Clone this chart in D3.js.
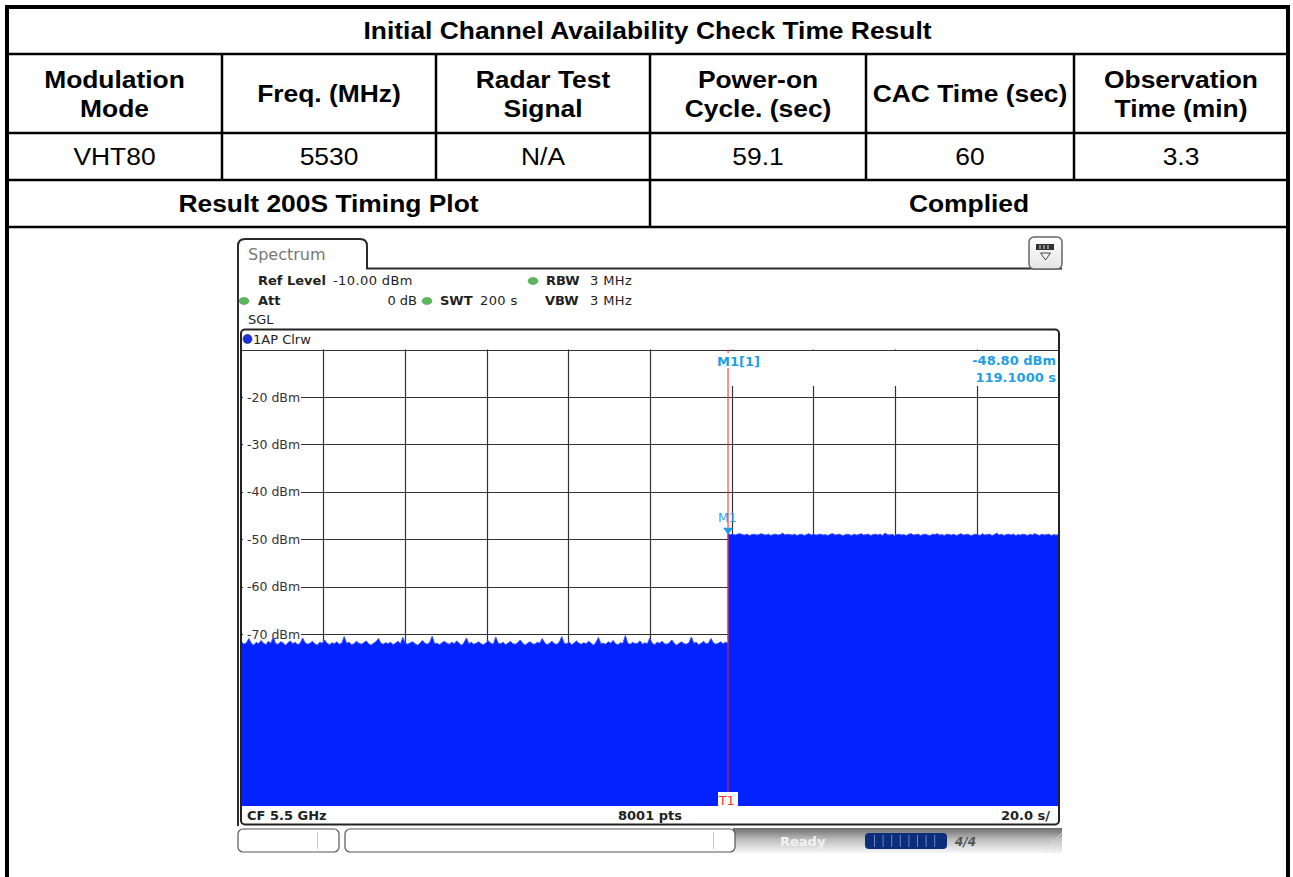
<!DOCTYPE html>
<html><head><meta charset="utf-8">
<script src="https://cdn.jsdelivr.net/npm/d3@7"></script>
<style>
html,body{margin:0;padding:0;background:#fff;}
svg{display:block;}
</style></head>
<body>
<svg id="c" width="1293" height="877"></svg>
<script>
// ---------- DATA ----------
const tableTitle = "Initial Channel Availability Check Time Result";
const headers = [["Modulation","Mode"],["Freq. (MHz)"],["Radar Test","Signal"],["Power-on","Cycle. (sec)"],["CAC Time (sec)"],["Observation","Time (min)"]];
const values = ["VHT80","5530","N/A","59.1","60","3.3"];
const resultRow = ["Result 200S Timing Plot","Complied"];

const refLevel = "-10.00 dBm", att = "0 dB", swt = "200 s", rbw = "3 MHz", vbw = "3 MHz";
const yTicks = [-20,-30,-40,-50,-60,-70,-80,-90,-100];
const xTicks = [20,40,60,80,100,120,140,160,180];
const sweepTime = 200;           // s
const markerTime = 119.1;        // s
const markerLevel = -48.80;      // dBm
const markerLabels = ["M1[1]","-48.80 dBm","119.1000 s"];
const footer = ["CF 5.5 GHz","8001 pts","20.0 s/"];

// trace level before the step (0 .. 119.1 s), dBm
const levelsBefore = [
-71.6,-72.1,-71.8,-70.9,-71.9,-72.3,-71.7,-72.0,-71.3,-71.9,-72.2,-71.5,-71.9,-70.6,-72.0,-72.1,-71.6,-71.8,-72.3,-71.8,
-71.4,-72.0,-71.7,-72.2,-71.9,-70.8,-71.8,-72.1,-71.9,-71.5,-72.0,-72.3,-71.7,-71.9,-71.2,-71.9,-72.2,-71.8,-72.0,-71.6,
-72.1,-71.9,-70.5,-71.9,-71.7,-72.2,-72.0,-71.5,-71.9,-72.1,-71.8,-71.4,-72.0,-72.3,-71.9,-71.6,-70.9,-71.9,-72.1,-71.8,
-72.0,-71.7,-72.2,-71.9,-71.5,-72.0,-70.7,-71.9,-72.1,-71.8,-71.6,-72.0,-72.3,-71.9,-71.3,-71.9,-72.1,-71.7,-70.4,-72.0,
-71.9,-72.2,-71.8,-71.5,-71.9,-72.1,-71.7,-72.0,-71.4,-71.9,-72.3,-71.8,-70.8,-72.0,-71.7,-72.1,-71.9,-71.6,-72.0,-72.2,
-71.8,-71.4,-71.9,-72.1,-70.6,-71.9,-72.0,-71.7,-72.2,-71.9,-71.5,-72.0,-72.1,-71.8,-71.2,-71.9,-72.3,-71.9,-71.6,-72.0,
-72.1,-71.7,-71.9,-70.9,-71.8,-72.2,-71.9,-71.5,-72.0,-72.1,-71.7,-70.5,-71.9,-72.0,-71.6,-72.2,-71.9,-71.4,-71.9,-72.1,
-71.8,-72.0,-71.5,-71.9,-72.3,-71.7,-70.7,-72.0,-71.9,-72.1,-71.6,-71.9,-71.3,-72.0,-72.2,-71.8,-71.9,-70.3,-71.9,-72.1,
-71.7,-72.0,-71.9,-71.4,-72.1,-71.8,-72.0,-70.8,-71.9,-72.2,-71.7,-71.9,-71.5,-72.0,-72.1,-71.8,-71.2,-71.9,-72.3,-71.9,
-71.6,-72.0,-72.1,-71.8,-70.6,-71.9,-71.7,-72.2,-71.9,-71.5,-72.0,-71.9,-70.9,-71.8,-72.1,-71.9,-71.6,-72.0,-71.7,-71.9];
// trace level after the step (119.1 .. 200 s), dBm
const levelsAfter = [
-48.8,-49.0,-48.9,-49.1,-48.9,-48.8,-49.0,-49.1,-48.9,-49.2,-49.0,-48.9,-49.1,-49.0,-48.8,-49.0,-49.1,-48.9,-49.2,-49.0,
-48.9,-49.1,-49.0,-48.7,-49.1,-48.9,-49.0,-49.1,-48.9,-49.2,-49.0,-48.9,-49.2,-49.0,-48.8,-49.1,-48.9,-49.1,-49.0,-48.9,
-49.1,-49.0,-49.2,-48.9,-48.8,-49.1,-49.0,-48.9,-49.2,-49.1,-48.9,-49.0,-49.2,-48.9,-49.1,-49.0,-48.8,-49.1,-49.0,-48.9,
-49.2,-49.0,-48.9,-49.1,-48.9,-49.2,-48.7,-49.0,-49.1,-48.9,-49.2,-49.0,-48.9,-49.1,-49.0,-49.2,-48.9,-48.8,-49.1,-49.0,
-48.9,-49.2,-49.0,-48.9,-49.1,-49.2,-48.9,-49.0,-48.8,-49.1,-49.0,-49.2,-48.9,-49.0,-49.1,-48.9,-49.2,-49.0,-48.8,-49.1,
-49.0,-48.9,-49.2,-49.1,-48.9,-49.0,-49.2,-48.8,-49.1,-49.0,-48.9,-49.2,-49.0,-48.7,-49.1,-48.9,-49.2,-49.0,-48.9,-49.1,
-48.9,-49.2,-49.0,-49.1,-48.9,-49.0,-49.2,-48.9,-49.1,-48.8,-49.0,-49.2,-48.9,-49.1,-49.0,-48.9,-49.2,-49.0,-49.1,-49.0];

// ---------- DRAW ----------
const svg = d3.select("#c");
svg.append("rect").attr("width",1293).attr("height",877).attr("fill","#fff");

// ----- table -----
const colX = [7, 222, 436, 650, 866, 1074, 1288];
const rowY = [7, 54, 133, 180, 227];
const T = svg.append("g").style("font-family","'Liberation Sans', Arial, sans-serif").style("font-size","24px").attr("fill","#000");
function cellText(txt, cx, cy, bold){
  T.append("text").attr("transform",`translate(${cx},${cy}) scale(1.1,1)`)
   .attr("text-anchor","middle").attr("dy","0.36em")
   .style("font-weight", bold ? "bold" : "normal").text(txt);
}
const L = svg.append("g").attr("stroke","#000");
[rowY[1],rowY[2],rowY[3],rowY[4]].forEach(y=>L.append("line").attr("x1",colX[0]).attr("x2",colX[6]).attr("y1",y).attr("y2",y).attr("stroke-width",2.5));
colX.slice(1,6).forEach(x=>L.append("line").attr("x1",x).attr("x2",x).attr("y1",rowY[1]).attr("y2",rowY[3]).attr("stroke-width",2.5));
L.append("line").attr("x1",colX[3]).attr("x2",colX[3]).attr("y1",rowY[3]).attr("y2",rowY[4]).attr("stroke-width",2.5);
L.append("path").attr("d",`M${colX[0]},877 V${rowY[0]} H${colX[6]} V877`).attr("fill","none").attr("stroke-width",4);

cellText(tableTitle, (colX[0]+colX[6])/2, (rowY[0]+rowY[1])/2, true);
headers.forEach((h,i)=>{
  const cx=(colX[i]+colX[i+1])/2, cy=(rowY[1]+rowY[2])/2;
  if(h.length===1) cellText(h[0],cx,cy,true);
  else { cellText(h[0],cx,cy-14.5,true); cellText(h[1],cx,cy+14.5,true); }
});
values.forEach((v,i)=>cellText(v,(colX[i]+colX[i+1])/2,(rowY[2]+rowY[3])/2,false));
cellText(resultRow[0],(colX[0]+colX[3])/2,(rowY[3]+rowY[4])/2,true);
cellText(resultRow[1],(colX[3]+colX[6])/2,(rowY[3]+rowY[4])/2,true);

// ----- spectrum screenshot -----
const S = svg.append("g").style("font-family","'DejaVu Sans', sans-serif");
S.append("path").attr("d","M238,826 V246 Q238,239 245,239 H360 Q367,239 367,246 V268.5 H1062")
 .attr("fill","none").attr("stroke","#2a2a2a").attr("stroke-width",2);
S.append("text").attr("x",248).attr("y",260).attr("fill","#777").style("font-size","16px").text("Spectrum");
const defs = svg.append("defs");
const ig = defs.append("linearGradient").attr("id","ig").attr("x1",0).attr("x2",0).attr("y1",0).attr("y2",1);
ig.append("stop").attr("offset",0).attr("stop-color","#fff");
ig.append("stop").attr("offset",1).attr("stop-color","#e4e4e4");
S.append("rect").attr("x",1029).attr("y",237).attr("width",33).attr("height",32).attr("rx",5).attr("fill","url(#ig)").attr("stroke","#666").attr("stroke-width",1.5);
S.append("rect").attr("x",1036).attr("y",244).attr("width",18).attr("height",6).attr("fill","#333");
[1040,1044,1048].forEach(x=>S.append("line").attr("x1",x).attr("x2",x).attr("y1",245).attr("y2",249).attr("stroke","#ddd").attr("stroke-width",1));
S.append("path").attr("d","M1040.5,253 H1050.5 L1045.5,260 Z").attr("fill","none").attr("stroke","#444").attr("stroke-width",1);

const hdr = S.append("g").style("font-size","13px").attr("fill","#222");
function dot(x,y){ S.append("ellipse").attr("cx",x).attr("cy",y).attr("rx",5).attr("ry",3.5).attr("fill","#5cb85c").attr("stroke","#3e8e3e").attr("stroke-width",0.5); }
hdr.append("text").attr("x",258).attr("y",285).style("font-weight","bold").text("Ref Level");
hdr.append("text").attr("x",333).attr("y",285).style("letter-spacing","0.4px").text(refLevel);
dot(533,281);
hdr.append("text").attr("x",546).attr("y",285).style("font-weight","bold").text("RBW");
hdr.append("text").attr("x",590).attr("y",285).style("letter-spacing","0.4px").text(rbw);
dot(244,301);
hdr.append("text").attr("x",258).attr("y",305).style("font-weight","bold").text("Att");
hdr.append("text").attr("x",417).attr("y",305).attr("text-anchor","end").text(att);
dot(427,301);
hdr.append("text").attr("x",440).attr("y",305).style("font-weight","bold").text("SWT");
hdr.append("text").attr("x",480).attr("y",305).style("letter-spacing","0.4px").text(swt);
hdr.append("text").attr("x",545).attr("y",305).style("font-weight","bold").text("VBW");
hdr.append("text").attr("x",590).attr("y",305).style("letter-spacing","0.4px").text(vbw);
hdr.append("text").attr("x",248).attr("y",324).text("SGL");

const x = d3.scaleLinear().domain([0,sweepTime]).range([241.5,1058.5]);
const y = d3.scaleLinear().domain([-110,-10]).range([824,349.6]);
S.append("rect").attr("x",241).attr("y",329.5).attr("width",818).attr("height",495).attr("fill","#fff");
S.append("circle").attr("cx",247.5).attr("cy",339).attr("r",4.5).attr("fill","#1a2fe0").attr("stroke","#223").attr("stroke-width",0.6);
S.append("text").attr("x",253).attr("y",344).attr("fill","#222").style("font-size","13px").text("1AP Clrw");

const grid = S.append("g").attr("stroke","#333").attr("stroke-width",1.2);
grid.selectAll("line.h").data([-10].concat(yTicks)).join("line").attr("class","h")
  .attr("x1",x(0)).attr("x2",x(sweepTime)).attr("y1",d=>Math.round(y(d))+0.5).attr("y2",d=>Math.round(y(d))+0.5);
grid.selectAll("line.v").data(xTicks).join("line").attr("class","v")
  .attr("x1",d=>Math.round(x(d))+0.5).attr("x2",d=>Math.round(x(d))+0.5).attr("y1",y(-10)).attr("y2",y(-110));

const yl = S.append("g");
yl.selectAll("rect").data(yTicks).join("rect").attr("x",243).attr("y",d=>y(d)-7).attr("width",58).attr("height",14).attr("fill","#fff");
yl.selectAll("text").data(yTicks).join("text").attr("x",247).attr("y",d=>y(d)+4.5)
  .attr("fill","#333").style("font-size","12.5px").text(d=>`${d} dBm`);

const ptsBefore = levelsBefore.map((v,i)=>[markerTime*i/(levelsBefore.length-1), v]);
const ptsAfter = levelsAfter.map((v,i)=>[markerTime+(sweepTime-markerTime)*i/(levelsAfter.length-1), v]);
const trace = ptsBefore.concat(ptsAfter);
const area = d3.area().x(d=>x(d[0])).y0(y(-110)).y1(d=>y(d[1]));
S.append("path").datum(trace).attr("d",area).attr("fill","#0322ff");
const line = d3.line().x(d=>x(d[0])).y(d=>y(d[1]));
S.append("path").datum(trace).attr("d",line).attr("fill","none").attr("stroke","#3a55ff").attr("stroke-width",1);

S.append("rect").attr("x",652).attr("y",351).attr("width",405).attr("height",35).attr("fill","#fff");
const mk = S.append("g").attr("fill","#1e9fe3").style("font-size","13px").style("font-weight","bold");
mk.append("text").attr("x",717).attr("y",366).text(markerLabels[0]);
mk.append("text").attr("x",1056).attr("y",365).attr("text-anchor","end").text(markerLabels[1]);
mk.append("text").attr("x",1056).attr("y",382).attr("text-anchor","end").text(markerLabels[2]);

const xm = x(markerTime);
S.append("line").attr("x1",xm).attr("x2",xm).attr("y1",349.6).attr("y2",353).attr("stroke","#ff2020").attr("stroke-width",1);
S.append("line").attr("x1",xm).attr("x2",xm).attr("y1",368).attr("y2",806).attr("stroke","#ff2020").attr("stroke-width",1);
S.append("text").attr("x",xm-10).attr("y",522).attr("fill","#2aa3e6").style("font-size","12.5px").text("M1");
S.append("path").attr("d",`M${xm-5},${y(markerLevel)-6} H${xm+5} L${xm},${y(markerLevel)+1} Z`).attr("fill","#1e9fe3");

S.append("rect").attr("x",242).attr("y",806).attr("width",816).attr("height",18).attr("fill","#fff");
S.append("rect").attr("x",xm-10).attr("y",792).attr("width",20).attr("height",14).attr("fill","#fff");
S.append("text").attr("x",xm-9).attr("y",805).attr("fill","#ff2a2a").style("font-size","12.5px").text("T1");
const ft = S.append("g").attr("fill","#222").style("font-size","13px").style("font-weight","bold");
ft.append("text").attr("x",247).attr("y",820).text(footer[0]);
ft.append("text").attr("x",650).attr("y",820).attr("text-anchor","middle").text(footer[1]);
ft.append("text").attr("x",1050).attr("y",820).attr("text-anchor","end").text(footer[2]);

S.append("rect").attr("x",241).attr("y",329.5).attr("width",818).attr("height",495).attr("rx",4)
 .attr("fill","none").attr("stroke","#222").attr("stroke-width",2);

const sg = defs.append("linearGradient").attr("id","sg").attr("x1",0).attr("x2",0).attr("y1",0).attr("y2",1);
sg.append("stop").attr("offset",0).attr("stop-color","#6c6c6c");
sg.append("stop").attr("offset",0.45).attr("stop-color","#bcbcbc");
sg.append("stop").attr("offset",1).attr("stop-color","#f8f8f8");
S.append("rect").attr("x",733).attr("y",828).attr("width",329).attr("height",25).attr("fill","url(#sg)");
S.append("rect").attr("x",238).attr("y",829).attr("width",101).attr("height",23).attr("rx",5).attr("fill","#fff").attr("stroke","#555").attr("stroke-width",1.2);
S.append("line").attr("x1",317.5).attr("x2",317.5).attr("y1",832).attr("y2",849).attr("stroke","#ccc");
S.append("rect").attr("x",345).attr("y",829).attr("width",390).attr("height",23).attr("rx",5).attr("fill","#fff").attr("stroke","#555").attr("stroke-width",1.2);
S.append("line").attr("x1",713.5).attr("x2",713.5).attr("y1",832).attr("y2",849).attr("stroke","#ccc");
S.append("text").attr("x",780).attr("y",846).attr("fill","#f2f2f2").style("font-size","13px").style("font-weight","bold").text("Ready");
S.append("rect").attr("x",865).attr("y",833).attr("width",82).attr("height",16).attr("rx",4).attr("fill","#0b2d7a");
d3.range(8).forEach(i=>S.append("line").attr("x1",874.5+i*8.6).attr("x2",874.5+i*8.6).attr("y1",835).attr("y2",847).attr("stroke","#6a86c8").attr("stroke-width",1));
S.append("text").attr("x",955).attr("y",846).attr("fill","#555").style("font-size","12px").style("font-weight","bold").style("font-style","italic").text("4/4");
d3.range(5).forEach(i=>S.append("line").attr("x1",1042+i*4).attr("x2",1062).attr("y1",853).attr("y2",833+i*4).attr("stroke","#ddd").attr("stroke-width",0.8));
</script>
</body></html>
